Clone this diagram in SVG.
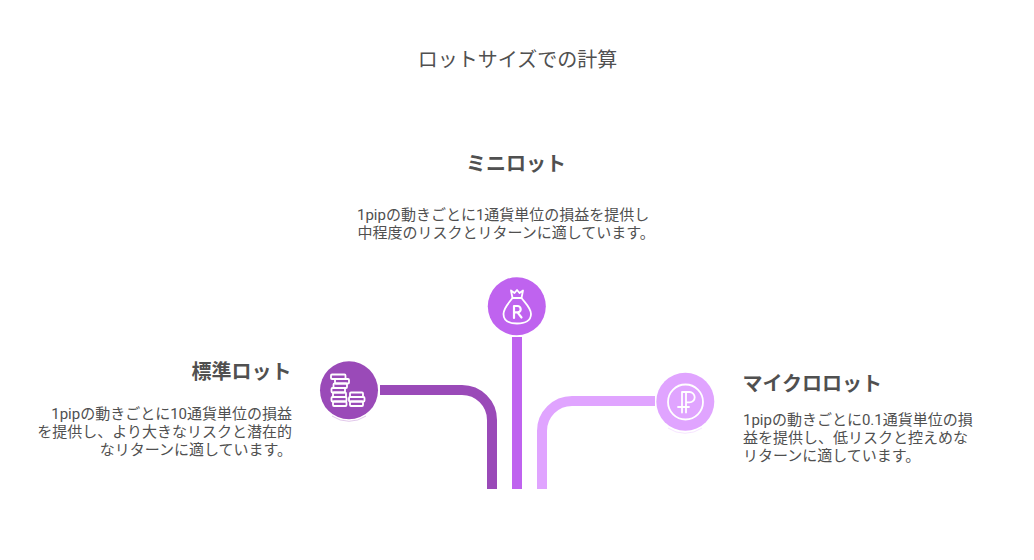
<svg xmlns="http://www.w3.org/2000/svg" width="1034" height="560" viewBox="0 0 1034 560">
<style>
text{font-family:"Roboto","Noto Sans CJK JP",sans-serif;fill:#505050}
.t{font-size:20px}
.h{font-size:20px;font-weight:700}
.b{font-size:15px}
.i{fill:none;stroke:#fff;stroke-width:1.8;stroke-linejoin:round;stroke-linecap:round}
.c{fill:none;stroke-width:10}
.a{fill:none;stroke-width:1;opacity:.3}
</style>
<rect width="1034" height="560" fill="#fff"/>
<text id="title" class="t" x="517.500" y="66.500" text-anchor="middle">ロットサイズでの計算</text>
<g id="connectors">
<path class="c" stroke="#9a4ab8" d="M380 390H462A30 30 0 0 1 492 420V489"/>
<path class="c" stroke="#bf63ef" d="M517 337V489"/>
<path class="c" stroke="#e0a4ff" d="M655 401H572A30 30 0 0 0 542 431V489"/>
</g>
<g id="node-standard">
<circle cx="349" cy="390.300" r="29" fill="#9a4ab8"/>
<path class="a" stroke="#9a4ab8" d="M332 416A30 30 0 0 0 366 416"/>
<g class="i">
<rect x="331" y="374.500" width="14.500" height="4.500" rx="1"/>
<rect x="335" y="379" width="14" height="4.500" rx="1"/>
<rect x="333.500" y="383.500" width="13.500" height="4.500" rx="1"/>
<rect x="331.500" y="388" width="13.500" height="4.500" rx="1"/>
<rect x="333" y="392.500" width="13" height="4.500" rx="1"/>
<rect x="331.500" y="397" width="15" height="4.500" rx="1"/>
<rect x="333" y="401.500" width="13.500" height="4.500" rx="1"/>
<rect x="350" y="392.500" width="13" height="4.500" rx="1"/>
<rect x="349" y="397" width="15.500" height="4.500" rx="1"/>
<rect x="350" y="401.500" width="13" height="4.500" rx="1"/>
</g>
<text class="h" x="291.500" y="379" text-anchor="end">標準ロット</text>
<text class="b" text-anchor="end"><tspan x="292" y="418.500">1pipの動きごとに10通貨単位の損益</tspan><tspan x="292" y="436.500">を提供し、より大きなリスクと潜在的</tspan><tspan x="292" y="455">なリターンに適しています。</tspan></text>
</g>
<g id="node-mini">
<circle cx="516.800" cy="306.300" r="29" fill="#bf63ef"/>
<g class="i">
<path d="M512.500 298L511 290.500L514.500 293L517 290L519.500 293L523 290.500L521.500 298Z"/>
<path d="M512.500 298C508 304 503.500 308 503.500 314C503.500 320.500 509 323.500 517 323.500C525 323.500 531 320.500 531 314C531 308 526 304 521.500 298"/>
<path stroke-width="2.200" d="M514 318V306H517.500A3.200 3.200 0 0 1 517.500 312.400H514M517.500 312.400L521.500 317.500"/>
</g>
<text class="h" x="516" y="171" text-anchor="middle">ミニロット</text>
<text class="b"><tspan x="357" y="220">1pipの動きごとに1通貨単位の損益を提供し</tspan><tspan x="357.500" y="238">中程度のリスクとリターンに適しています。</tspan></text>
</g>
<g id="node-micro">
<circle cx="685.300" cy="401.700" r="29" fill="#e0a4ff"/>
<path class="a" stroke="#e0a4ff" d="M668 428A30 30 0 0 0 702 428"/>
<g class="i">
<circle cx="685.500" cy="402" r="17.500"/>
<path d="M682 412.500V392H689.500A5.200 5.200 0 0 1 689.500 402.400H686M686 392V412.500M678 407H689"/>
</g>
<text class="h" x="742.500" y="391">マイクロロット</text>
<text class="b"><tspan x="743" y="424.500">1pipの動きごとに0.1通貨単位の損</tspan><tspan x="743" y="442.500">益を提供し、低リスクと控えめな</tspan><tspan x="743" y="460.500">リターンに適しています。</tspan></text>
</g>
</svg>
